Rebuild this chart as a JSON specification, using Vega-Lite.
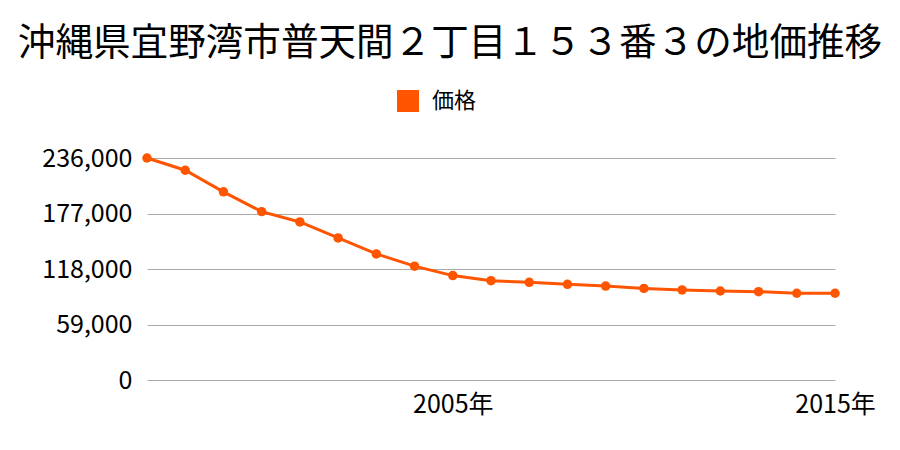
{
  "$schema": "https://vega.github.io/schema/vega-lite/v6.json",
  "width": 688,
  "height": 222,
  "autosize": {"type": "none"},
  "padding": {"left": 147, "top": 158, "right": 65, "bottom": 70},
  "background": "white",
  "config": {
    "font": "Noto Sans CJK JP",
    "view": {"stroke": null}
  },
  "title": {
    "text": "沖縄県宜野湾市普天間２丁目１５３番３の地価推移",
    "fontSize": 37.6,
    "fontWeight": "normal",
    "font": "Noto Sans CJK JP",
    "color": "#000000",
    "anchor": "middle",
    "dx": -41,
    "offset": 27
  },
  "data": {
    "values": [
      {"year": 1997, "price": 236000, "series": "価格"},
      {"year": 1998, "price": 223000, "series": "価格"},
      {"year": 1999, "price": 200000, "series": "価格"},
      {"year": 2000, "price": 179000, "series": "価格"},
      {"year": 2001, "price": 168000, "series": "価格"},
      {"year": 2002, "price": 151000, "series": "価格"},
      {"year": 2003, "price": 134000, "series": "価格"},
      {"year": 2004, "price": 121000, "series": "価格"},
      {"year": 2005, "price": 111000, "series": "価格"},
      {"year": 2006, "price": 105600, "series": "価格"},
      {"year": 2007, "price": 103800, "series": "価格"},
      {"year": 2008, "price": 101700, "series": "価格"},
      {"year": 2009, "price": 99900, "series": "価格"},
      {"year": 2010, "price": 97400, "series": "価格"},
      {"year": 2011, "price": 95700, "series": "価格"},
      {"year": 2012, "price": 94600, "series": "価格"},
      {"year": 2013, "price": 93900, "series": "価格"},
      {"year": 2014, "price": 92200, "series": "価格"},
      {"year": 2015, "price": 92200, "series": "価格"}
    ]
  },
  "encoding": {
    "x": {
      "field": "year",
      "type": "quantitative",
      "scale": {"domain": [1997, 2015], "nice": false, "zero": false},
      "axis": {
        "values": [2005, 2015],
        "labelExpr": "datum.value + '年'",
        "grid": false,
        "domain": false,
        "ticks": false,
        "labelPadding": 12,
        "labelFontSize": 25,
        "labelColor": "#000000",
        "labelFlush": false,
        "title": null
      }
    },
    "y": {
      "field": "price",
      "type": "quantitative",
      "scale": {"domain": [0, 236000], "nice": false},
      "axis": {
        "values": [0, 59000, 118000, 177000, 236000],
        "format": ",d",
        "grid": true,
        "gridColor": "#aaaaaa",
        "gridWidth": 1,
        "domain": false,
        "ticks": false,
        "labelPadding": 15,
        "labelFontSize": 25,
        "labelColor": "#000000",
        "title": null
      }
    },
    "color": {
      "field": "series",
      "type": "nominal",
      "scale": {"range": ["#ff5500"]},
      "legend": {
        "orient": "none",
        "legendX": 250,
        "legendY": -68,
        "title": null,
        "symbolType": "square",
        "symbolSize": 484,
        "symbolStrokeWidth": 0,
        "symbolFillColor": "#ff5500",
        "labelFontSize": 22,
        "labelColor": "#000000",
        "labelOffset": 13,
        "padding": 0
      }
    }
  },
  "layer": [
    {"mark": {"type": "line", "strokeWidth": 3}},
    {"mark": {"type": "point", "filled": true, "size": 90, "opacity": 1}}
  ]
}
